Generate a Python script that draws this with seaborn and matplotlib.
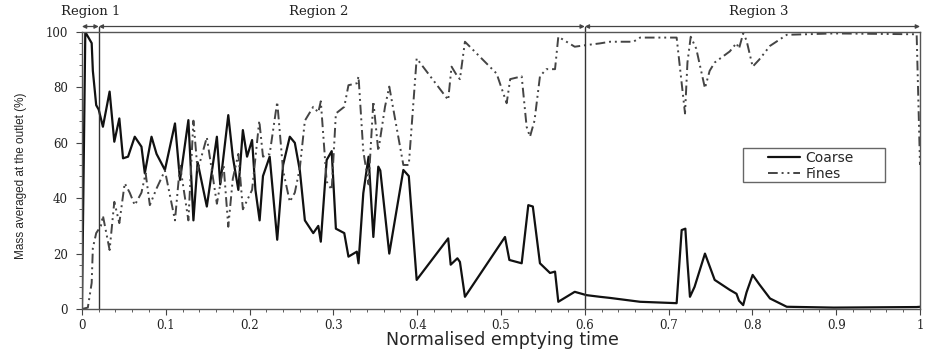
import numpy as np
import pandas as pd
import seaborn as sns
import matplotlib
matplotlib.use('Agg')
from matplotlib import pyplot as plt
from matplotlib.ticker import MultipleLocator
from matplotlib.patches import Rectangle

# Coarse 曲线 (实线)
coarse_t = [0.0, 0.004, 0.0116, 0.013, 0.017, 0.02, 0.025, 0.033, 0.0386, 0.0446, 0.049,
            0.055, 0.063, 0.071, 0.075, 0.083, 0.089, 0.099, 0.111, 0.117, 0.127, 0.133,
            0.138, 0.149, 0.161, 0.165, 0.1746, 0.18, 0.1866, 0.192, 0.197, 0.203, 0.207,
            0.212, 0.216, 0.224, 0.233, 0.24, 0.248, 0.254, 0.26, 0.266, 0.276, 0.282,
            0.285, 0.292, 0.298, 0.303, 0.313, 0.318, 0.328, 0.33, 0.3357, 0.342, 0.3477,
            0.3536, 0.356, 0.3667, 0.3835, 0.39, 0.3994, 0.437, 0.44, 0.448, 0.451, 0.457,
            0.5048, 0.51, 0.5247, 0.5326, 0.538, 0.5465, 0.5585, 0.5645, 0.5684, 0.588,
            0.602, 0.618, 0.63, 0.666, 0.7096, 0.7156, 0.72, 0.7225, 0.7255, 0.731, 0.7434,
            0.755, 0.773, 0.781, 0.784, 0.789, 0.793, 0.8003, 0.808, 0.821, 0.841, 0.897,
            0.996, 1.0]
coarse_v = [0.0, 100, 96, 86, 73.6, 72, 65.8, 78.5, 60.4, 68.8, 54.4,
            55, 62.2, 58.6, 49, 62.2, 56, 50.2, 67, 46.6, 68.2, 32,
            53, 37, 62.2, 45, 70, 55, 43, 64.6, 55, 61, 43,
            32, 48, 55, 25, 52, 62.2, 60, 50, 32, 27.4, 30,
            24.3, 53.8, 57, 29, 27.4, 18.9, 20.7, 16.5, 41.8, 55, 26,
            51.4, 50, 20, 50.2, 48, 10.5, 25.5, 16, 18.3, 17, 4.4,
            26, 17.7, 16.5, 37.5, 37, 16.5, 13, 13.5, 2.6, 6.2,
            5, 4.4, 4, 2.6, 2.1, 28.5, 29, 17, 4.4, 8, 20,
            10.5, 6.9, 5.5, 3, 1.4, 6, 12.3, 9, 3.8, 0.8, 0.5,
            0.7, 0.8]

# Fines 曲线 (点划线)
fines_t = [0.0, 0.007, 0.0116, 0.013, 0.017, 0.0226, 0.025, 0.033, 0.0386, 0.0446, 0.051,
           0.057, 0.063, 0.071, 0.076, 0.081, 0.089, 0.099, 0.111, 0.117, 0.127, 0.133,
           0.138, 0.149, 0.161, 0.169, 0.1746, 0.18, 0.1866, 0.192, 0.203, 0.2116, 0.216,
           0.224, 0.233, 0.24, 0.248, 0.254, 0.26, 0.266, 0.276, 0.282, 0.285, 0.292,
           0.298, 0.303, 0.313, 0.318, 0.328, 0.33, 0.3357, 0.342, 0.3477, 0.3536, 0.3616,
           0.3667, 0.3835, 0.39, 0.3994, 0.437, 0.441, 0.448, 0.451, 0.457, 0.4948, 0.5068,
           0.511, 0.5247, 0.5306, 0.5346, 0.54, 0.5465, 0.554, 0.5645, 0.5684, 0.588, 0.602,
           0.618, 0.63, 0.658, 0.666, 0.7096, 0.7196, 0.7225, 0.7264, 0.733, 0.7434, 0.749,
           0.755, 0.773, 0.781, 0.784, 0.789, 0.793, 0.8003, 0.808, 0.821, 0.841, 0.897,
           0.996, 1.0]
fines_v = [0.0, 0.5, 9.4, 22, 27.4, 30, 33.7, 21.3, 38.7, 31, 45.4,
           42, 37.5, 42, 49, 37.5, 43.5, 50, 32, 52, 32, 68,
           50, 62, 38, 52, 29.7, 47, 56, 36, 43, 68, 55,
           56, 74.8, 50, 38.7, 42, 51, 68, 73, 71, 75, 46,
           43, 70.6, 73, 80.8, 81.5, 84, 57, 45, 75, 57, 73,
           80.3, 52, 52, 90.5, 75.5, 87.5, 84, 83, 96.5, 85, 74.3,
           83, 84, 65.8, 62.2, 68, 84, 86.6, 86.6, 98.3, 94.7, 95.3,
           95.9, 96.5, 96.5, 98, 98, 70.6, 89, 98.3, 94, 79.7, 86,
           89, 93, 96, 94, 99.5, 97, 87.5, 90, 95, 99, 99.5,
           99.2, 52]

# 区域划分
region_names = ['Region 1', 'Region 2', 'Region 3']
region_edges = [0.0, 0.02, 0.6, 1.0]
region_label_x = [0.01, 0.283, 0.807]

coarse_df = pd.DataFrame({'t': coarse_t, 'v': coarse_v})
fines_df = pd.DataFrame({'t': fines_t, 'v': fines_v})

sns.set_style('ticks')
plt.rcParams['font.family'] = ['DejaVu Serif']

fig = plt.figure(figsize=(9.25, 3.51), dpi=100)
ax = fig.add_axes([0.0886, 0.1197, 0.906, 0.789])

sns.lineplot(data=coarse_df, x='t', y='v', ax=ax, color='#111111', linewidth=1.6,
             label='Coarse', sort=False, estimator=None)
sns.lineplot(data=fines_df, x='t', y='v', ax=ax, color='#444444', linewidth=1.4,
             label='Fines', sort=False, estimator=None)
ax.lines[1].set_linestyle((0, (5, 2, 1, 2, 1, 2)))

ax.set_xlim(0, 1)
ax.set_ylim(0, 100)
ax.xaxis.set_major_locator(MultipleLocator(0.1))
ax.xaxis.set_minor_locator(MultipleLocator(0.02))
ax.yaxis.set_major_locator(MultipleLocator(20))
ax.yaxis.set_minor_locator(MultipleLocator(4))
ax.set_xticks(np.arange(0, 1.01, 0.1))
ax.set_xticklabels(['0', '0.1', '0.2', '0.3', '0.4', '0.5', '0.6', '0.7', '0.8', '0.9', '1'])
ax.tick_params(axis='both', which='major', labelsize=8.5, length=4, width=0.8,
               color='#444444', labelcolor='#222222')
ax.tick_params(axis='x', which='major', pad=3)
ax.tick_params(axis='y', which='major', pad=6)
ax.tick_params(axis='both', which='minor', length=2.5, width=0.6, color='#444444')
for s in ax.spines.values():
    s.set_color('#555555')
    s.set_linewidth(1.0)

ax.set_xlabel('Normalised emptying time', family=['DejaVu Sans'], fontsize=12.5)
ax.xaxis.set_label_coords(0.502, -0.079)
ax.set_ylabel('Mass averaged at the outlet (%)',
              family=['Liberation Sans Narrow', 'Liberation Sans'], fontsize=8.5)
ax.yaxis.set_label_coords(-0.066, 0.48)

# 区域分隔线与箭头
y_arrow = 102
for e in region_edges[1:3]:
    ax.plot([e, e], [0, y_arrow], color='#333333', linewidth=1.0, clip_on=False)
for i, name in enumerate(region_names):
    a, b = region_edges[i], region_edges[i + 1]
    ax.annotate('', xy=(b, y_arrow), xytext=(a, y_arrow), annotation_clip=False,
                arrowprops=dict(arrowstyle='<|-|>', color='#444444', lw=0.9,
                                mutation_scale=6, shrinkA=0, shrinkB=0))
    ax.text(region_label_x[i], 107.5, name, fontsize=9.5, ha='center', va='center',
            color='#222222', clip_on=False)

# 图例：手动画框
ax.add_patch(Rectangle((0.789, 0.458), 0.169, 0.123, transform=ax.transAxes,
                       facecolor='white', edgecolor='#666666', linewidth=1.0, zorder=4))
leg = ax.legend(loc='upper left', bbox_to_anchor=(0.8186, 0.572),
                prop={'family': ['DejaVu Sans'], 'size': 10},
                handlelength=2.3, handletextpad=0.4, frameon=False, borderpad=0,
                labelspacing=0.15, borderaxespad=0)
leg.set_zorder(5)

fig.savefig('out.png', dpi=100)
